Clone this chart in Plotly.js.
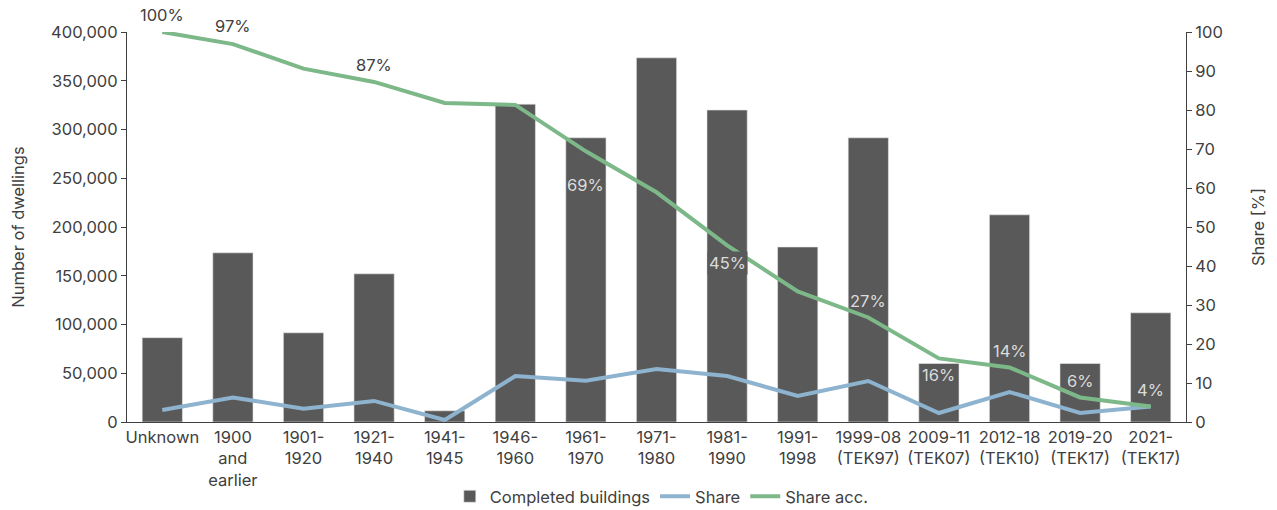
<!DOCTYPE html>
<html>
<head>
<meta charset="utf-8">
<script src="https://cdn.plot.ly/plotly-3.0.1.min.js"></script>
<style>html,body{margin:0;padding:0;background:#fff;}#chart{width:1277px;height:510px;}</style>
</head>
<body>
<div id="chart"></div>
<script>
// ---- data ----
const categories = ["Unknown","1900<br>and<br>earlier","1901-<br>1920","1921-<br>1940","1941-<br>1945","1946-<br>1960","1961-<br>1970","1971-<br>1980","1981-<br>1990","1991-<br>1998","1999-08<br>(TEK97)","2009-11<br>(TEK07)","2012-18<br>(TEK10)","2019-20<br>(TEK17)","2021-<br>(TEK17)"];
const completedBuildings = [86500,173500,91500,152000,11500,326000,291500,373500,320000,179500,291500,60000,212500,60000,112000];
const share = [3.1,6.3,3.4,5.4,0.5,11.8,10.6,13.6,11.8,6.7,10.5,2.3,7.7,2.3,4.0];
const shareAcc = [100,96.9,90.6,87.2,81.8,81.3,69.4,58.9,45.3,33.5,26.8,16.3,14.0,6.3,4.0];
const accLabelIndex = [0,1,3,6,8,10,11,12,13,14];

// ---- label styling (not data) ----
const labelShift = {0:17,1:18,3:17,6:-34,8:-18,10:16,11:-17,12:16,13:16,14:16};
const darkLabels = [0,1,3];
const boxedLabels = [8];

const FONT = "Inter, Roboto, 'Liberation Sans', sans-serif";
const FS = 16.5;
const TXT = "#404040";
const barColor = "#595959";

const traces = [
  {type:'bar', name:'Completed buildings', x:categories, y:completedBuildings,
   marker:{color:barColor, line:{color:'#e8e8e8', width:0.6}}, hoverinfo:'y'},
  {type:'scatter', mode:'lines', name:'Share', x:categories, y:share, yaxis:'y2',
   line:{color:'#8db3cf', width:4}},
  {type:'scatter', mode:'lines', name:'Share acc.', x:categories, y:shareAcc, yaxis:'y2',
   line:{color:'#7db889', width:4}}
];

const annotations = accLabelIndex.map(i => ({
  x: categories[i], y: shareAcc[i], xref:'x', yref:'y2',
  text: Math.round(shareAcc[i]) + '%', showarrow:false,
  yshift: labelShift[i], yanchor:'middle', xanchor:'center',
  font:{family:FONT, size:FS, color: darkLabels.includes(i) ? TXT : '#dcdcdc'},
  bgcolor: boxedLabels.includes(i) ? barColor : 'rgba(0,0,0,0)',
  borderpad: 1
}));

const layout = {
  width:1277, height:510,
  margin:{l:127, r:91, t:32, b:88, autoexpand:false},
  paper_bgcolor:'#fff', plot_bgcolor:'#fff',
  font:{family:FONT, size:FS, color:TXT},
  bargap:0.43,
  showlegend:true,
  legend:{orientation:'h', x:0.505, xanchor:'center', y:-0.236, yanchor:'bottom',
          font:{family:FONT, size:FS, color:TXT}, traceorder:'normal'},
  xaxis:{type:'category', showline:true, linecolor:'#404040', linewidth:1, ticks:'',
         showgrid:false, tickfont:{size:FS, color:TXT}, automargin:false},
  yaxis:{range:[0,400000], tickvals:[0,50000,100000,150000,200000,250000,300000,350000,400000],
         tickformat:',d', showline:true, linecolor:'#404040', linewidth:1, ticks:'outside',
         ticklen:5, tickcolor:'#404040', showgrid:false, zeroline:false,
         title:{text:'Number of dwellings', font:{size:FS, color:TXT}, standoff:22},
         automargin:false},
  yaxis2:{range:[0,100], dtick:10, overlaying:'y', side:'right', showline:true,
          linecolor:'#404040', linewidth:1, ticks:'outside', ticklen:5, tickcolor:'#404040',
          showgrid:false, zeroline:false,
          title:{text:'Share [%]', font:{size:FS, color:TXT}, standoff:30},
          automargin:false},
  annotations: annotations
};

Plotly.newPlot('chart', traces, layout, {displayModeBar:false, staticPlot:true});
</script>
</body>
</html>
